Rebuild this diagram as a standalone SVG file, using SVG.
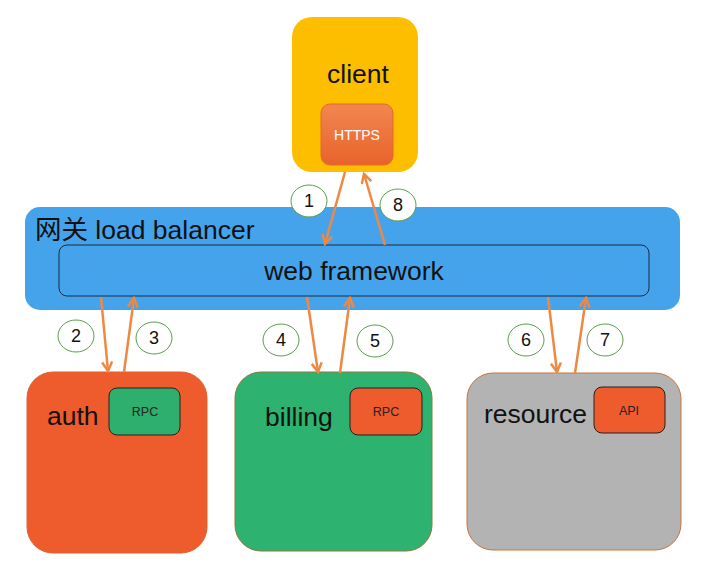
<svg xmlns="http://www.w3.org/2000/svg" width="722" height="575" viewBox="0 0 722 575">
<style>
.lbl{font-family:"Liberation Sans","Noto Sans CJK SC",sans-serif;font-size:26.5px;fill:#111}
.small{font-family:"Liberation Sans",sans-serif;font-size:12.5px;fill:#222;text-anchor:middle}
.num{font-family:"Liberation Sans",sans-serif;font-size:18px;fill:#111;text-anchor:middle}
.badge{fill:#fff;stroke:#5a9e4e;stroke-width:1}
.arrow{stroke:#EE8843;stroke-width:2.5;fill:none;marker-end:url(#ah)}
</style>
<defs>
<marker id="ah" viewBox="0 0 12 12" refX="10" refY="6" markerWidth="12" markerHeight="12" markerUnits="userSpaceOnUse" orient="auto">
<polyline points="1,1 10,6 1,11" fill="none" stroke="#EE8843" stroke-width="2.5"/>
</marker>
<linearGradient id="hg" x1="0" y1="0" x2="0" y2="1">
<stop offset="0" stop-color="#F28650"/>
<stop offset="1" stop-color="#E8632B"/>
</linearGradient>
</defs>
<rect width="722" height="575" fill="#fff"/>
<g id="client">
<rect x="292" y="17" width="126" height="155" rx="20" fill="#FDBE00"/>
<text class="lbl" x="358" y="83" text-anchor="middle">client</text>
<rect x="321" y="104" width="72" height="61" rx="9" fill="url(#hg)" stroke="#E4692F" stroke-width="1"/>
<text class="small" x="357" y="140" style="fill:#fff;font-size:14px">HTTPS</text>
</g>
<g id="gateway">
<rect x="25" y="207" width="655" height="103" rx="15" fill="#45A3EC"/>
<text class="lbl" x="35" y="239">网关 load balancer</text>
</g>
<g id="webframework">
<rect x="59" y="245" width="590" height="51" rx="8" fill="#45A3EC" stroke="#1b2a40" stroke-width="1"/>
<text class="lbl" x="354" y="280" text-anchor="middle">web framework</text>
</g>
<g id="auth">
<rect x="27" y="372" width="180" height="181" rx="26" fill="#EE5B2D" stroke="#d9652f" stroke-width="1"/>
<text class="lbl" x="47" y="425">auth</text>
<rect x="109" y="388" width="71" height="47" rx="8" fill="#2EAF6E" stroke="#222" stroke-width="1"/>
<text class="small" x="145" y="416">RPC</text>
</g>
<g id="billing">
<rect x="235" y="372" width="197" height="179" rx="26" fill="#2DB26F" stroke="#8a7a3a" stroke-width="1"/>
<text class="lbl" x="265" y="426">billing</text>
<rect x="350" y="388" width="72" height="47" rx="8" fill="#EE5B2D" stroke="#222" stroke-width="1"/>
<text class="small" x="386" y="416">RPC</text>
</g>
<g id="resource">
<rect x="467" y="373" width="214" height="177" rx="26" fill="#B3B3B3" stroke="#C8743F" stroke-width="1"/>
<text class="lbl" x="484" y="423">resource</text>
<rect x="594" y="387" width="71" height="46" rx="8" fill="#EE5B2D" stroke="#222" stroke-width="1"/>
<text class="small" x="629" y="415">API</text>
</g>
<g id="connectors">
<line class="arrow" x1="345" y1="172" x2="325" y2="244"/>
<line class="arrow" x1="385" y1="245" x2="364" y2="174"/>
<line class="arrow" x1="101" y1="297" x2="108" y2="371"/>
<line class="arrow" x1="124" y1="372" x2="134" y2="298"/>
<line class="arrow" x1="307" y1="297" x2="318" y2="372"/>
<line class="arrow" x1="340" y1="373" x2="350" y2="298"/>
<line class="arrow" x1="548" y1="297" x2="557" y2="372"/>
<line class="arrow" x1="575" y1="373" x2="586" y2="298"/>
</g>
<g id="labels">
<ellipse class="badge" cx="309" cy="201" rx="18" ry="16"/>
<text class="num" x="309" y="207">1</text>
<ellipse class="badge" cx="398" cy="205" rx="18" ry="16"/>
<text class="num" x="398" y="211">8</text>
<ellipse class="badge" cx="76" cy="336" rx="18" ry="16"/>
<text class="num" x="76" y="342">2</text>
<ellipse class="badge" cx="154" cy="338" rx="18" ry="16"/>
<text class="num" x="154" y="344">3</text>
<ellipse class="badge" cx="281" cy="340" rx="18" ry="16"/>
<text class="num" x="281" y="346">4</text>
<ellipse class="badge" cx="375" cy="341" rx="18" ry="16"/>
<text class="num" x="375" y="347">5</text>
<ellipse class="badge" cx="526" cy="340" rx="18" ry="16"/>
<text class="num" x="526" y="346">6</text>
<ellipse class="badge" cx="605" cy="340" rx="18" ry="16"/>
<text class="num" x="605" y="346">7</text>
</g>
</svg>
